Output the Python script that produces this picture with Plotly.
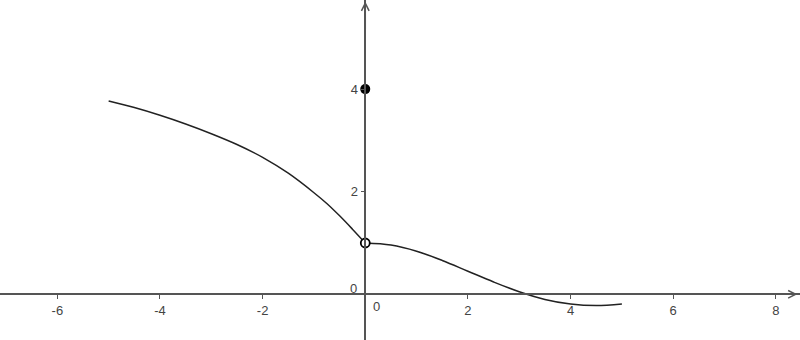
import plotly.graph_objects as go

# Data
left_x = [-5, -4.5, -4, -3.5, -3, -2.5, -2, -1.5, -1, -0.75, -0.5, -0.25, 0]
left_y = [3.77, 3.64, 3.49, 3.32, 3.13, 2.92, 2.67, 2.36, 1.98, 1.77, 1.53, 1.27, 1.0]
right_x = [0, 0.5, 1, 1.5, 2, 2.5, 3, 3.5, 4, 4.5, 5]
right_y = [1.0, 0.96, 0.84, 0.66, 0.45, 0.24, 0.05, -0.10, -0.19, -0.22, -0.19]
filled_pt = (0, 4)
open_pt = (0, 1)
x_ticks = [-6, -4, -2, 2, 4, 6, 8]
y_ticks = [2, 4]

XR = [-7.117, 8.47]
YR = [-0.891, 5.737]
xpos = (0 - YR[0]) / (YR[1] - YR[0])
ypos = (0 - XR[0]) / (XR[1] - XR[0])

AX = "#555555"
TXT = "#444444"
FONT = dict(family="Liberation Sans, Arial, sans-serif", size=13, color=TXT)

fig = go.Figure()
fig.add_trace(go.Scatter(x=left_x, y=left_y, mode="lines", line=dict(color="#222222", width=1.5, shape="spline"), hoverinfo="skip"))
fig.add_trace(go.Scatter(x=right_x, y=right_y, mode="lines", line=dict(color="#222222", width=1.5, shape="spline"), hoverinfo="skip"))
fig.add_trace(go.Scatter(x=[filled_pt[0]], y=[filled_pt[1]], mode="markers", marker=dict(color="black", size=10), hoverinfo="skip"))
fig.add_trace(go.Scatter(x=[open_pt[0]], y=[open_pt[1]], mode="markers",
                         marker=dict(color="white", size=9, line=dict(color="black", width=1.8)), hoverinfo="skip"))

fig.update_layout(
    width=800, height=340, margin=dict(l=0, r=0, t=0, b=0),
    plot_bgcolor="white", paper_bgcolor="white", showlegend=False,
    xaxis=dict(range=XR, showgrid=False, zeroline=False, showline=True, linecolor=AX, linewidth=1.5,
               anchor="free", position=xpos, tickvals=x_ticks, ticktext=[str(v) for v in x_ticks],
               ticks="outside", ticklen=4, tickcolor=AX, tickwidth=1, tickfont=FONT, fixedrange=True),
    yaxis=dict(range=YR, showgrid=False, zeroline=False, showline=True, linecolor=AX, linewidth=1.5,
               anchor="free", position=ypos, tickvals=y_ticks, ticktext=[str(v) for v in y_ticks],
               ticks="outside", ticklen=4, tickcolor=AX, tickwidth=1, tickfont=FONT, fixedrange=True),
)

# axis arrowheads
fig.add_annotation(x=XR[1] - 0.05, y=0, ax=XR[1] - 0.6, ay=0, xref="x", yref="y", axref="x", ayref="y",
                   showarrow=True, arrowhead=5, arrowsize=1, arrowwidth=1.5, arrowcolor=AX, text="")
fig.add_annotation(x=0, y=YR[1] - 0.03, ax=0, ay=YR[1] - 0.6, xref="x", yref="y", axref="x", ayref="y",
                   showarrow=True, arrowhead=5, arrowsize=1, arrowwidth=1.5, arrowcolor=AX, text="")

# origin labels
fig.add_annotation(x=0, y=0, xref="x", yref="y", text="0", showarrow=False, font=FONT,
                   xanchor="center", yanchor="middle", xshift=11, yshift=-12)
fig.add_annotation(x=0, y=0, xref="x", yref="y", text="0", showarrow=False, font=FONT,
                   xanchor="center", yanchor="middle", xshift=-12, yshift=6)

fig.write_html("out.html")
